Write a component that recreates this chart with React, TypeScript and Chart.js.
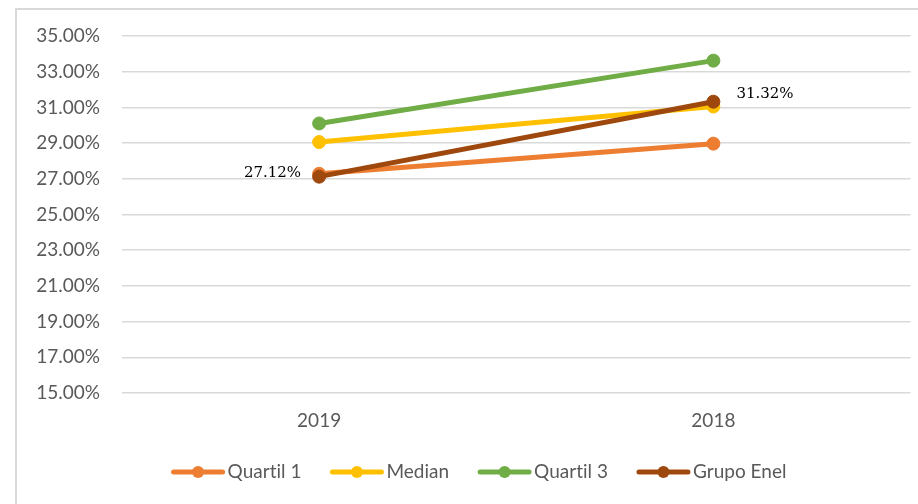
import React, { useEffect, useRef } from "react";
import { Chart, registerables } from "chart.js";

Chart.register(...registerables);

const categories = ["2019", "2018"];
const quartil1 = [27.28, 28.97];
const median = [29.06, 31.05];
const quartil3 = [30.1, 33.62];
const grupoEnel = [27.12, 31.32];
const seriesNames = ["Quartil 1", "Median", "Quartil 3", "Grupo Enel"];
const seriesColors = ["#ED7D31", "#FFC000", "#70AD47", "#9E480E"];
const enelLabels = ["27.12%", "31.32%"];

const AXIS_FONT = "Lato, 'Open Sans', sans-serif";

const decorPlugin = {
  id: "decor",
  beforeDraw(chart: any) {
    const ctx = chart.ctx;
    ctx.save();
    ctx.strokeStyle = "#d9d9d9";
    ctx.lineWidth = 2;
    ctx.beginPath();
    ctx.moveTo(16, chart.height);
    ctx.lineTo(16, 9);
    ctx.lineTo(chart.width, 9);
    ctx.stroke();
    ctx.restore();
  },
  afterDraw(chart: any) {
    const ctx = chart.ctx;
    ctx.save();
    // data labels for Grupo Enel
    const meta = chart.getDatasetMeta(3);
    ctx.font = "15px 'DejaVu Serif', serif";
    ctx.fillStyle = "#000000";
    ctx.textBaseline = "middle";
    meta.data.forEach((pt: any, i: number) => {
      if (i === 0) {
        ctx.textAlign = "right";
        ctx.fillText(enelLabels[i], pt.x - 18, pt.y - 3.5);
      } else {
        ctx.textAlign = "left";
        ctx.fillText(enelLabels[i], pt.x + 23, pt.y - 8);
      }
    });
    // legend
    ctx.font = "19px " + AXIS_FONT;
    try {
      (ctx as any).letterSpacing = "0.01px";
    } catch (e) {}
    const lineLen = 53;
    const gapText = 3;
    const gapItem = 29;
    const widths = seriesNames.map((n) => ctx.measureText(n).width);
    const total =
      widths.reduce((a, w) => a + lineLen + gapText + w, 0) +
      gapItem * (seriesNames.length - 1);
    let x = 479 - total / 2;
    const y = 472;
    seriesNames.forEach((name, i) => {
      ctx.strokeStyle = seriesColors[i];
      ctx.fillStyle = seriesColors[i];
      ctx.lineWidth = 5;
      ctx.lineCap = "round";
      ctx.beginPath();
      ctx.moveTo(x + 2, y);
      ctx.lineTo(x + lineLen - 2, y);
      ctx.stroke();
      ctx.beginPath();
      ctx.arc(x + lineLen / 2, y, 6, 0, Math.PI * 2);
      ctx.fill();
      ctx.fillStyle = "#595959";
      ctx.textAlign = "left";
      ctx.textBaseline = "middle";
      ctx.fillText(name, x + lineLen + gapText, y);
      x += lineLen + gapText + widths[i] + gapItem;
    });
    ctx.restore();
  },
};

export default function App() {
  const ref = useRef<HTMLCanvasElement>(null);
  useEffect(() => {
    if (!ref.current) return;
    const series = [quartil1, median, quartil3, grupoEnel];
    const chart = new Chart(ref.current, {
      type: "line",
      data: {
        labels: categories,
        datasets: series.map((d, i) => ({
          label: seriesNames[i],
          data: d,
          borderColor: seriesColors[i],
          backgroundColor: seriesColors[i],
          pointBackgroundColor: seriesColors[i],
          pointBorderColor: seriesColors[i],
          borderWidth: 5,
          pointRadius: 6.5,
          pointBorderWidth: 1,
          borderCapStyle: "round" as const,
          order: 3 - i,
        })),
      },
      options: {
        responsive: false,
        animation: false,
        events: [],
        layout: { padding: { left: 0, right: 2, top: 36, bottom: 51 } },
        plugins: {
          legend: { display: false },
          tooltip: { enabled: false },
        },
        scales: {
          x: {
            offset: true,
            grid: { display: false, drawTicks: false },
            border: { display: false },
            ticks: {
              color: "#595959",
              font: { family: AXIS_FONT, size: 19 },
              padding: 16,
            },
            afterFit(scale: any) {
              scale.height = 60;
            },
          },
          y: {
            min: 15,
            max: 35,
            grid: { color: "#d9d9d9", lineWidth: 1.5, drawTicks: false },
            border: { display: false },
            ticks: {
              stepSize: 2,
              color: "#595959",
              font: { family: AXIS_FONT, size: 19 },
              padding: 22,
              callback: (v: any) => Number(v).toFixed(2) + "%",
            },
            afterFit(scale: any) {
              scale.width = 122;
            },
          },
        },
      },
      plugins: [decorPlugin],
    });
    return () => chart.destroy();
  }, []);
  return (
    <div style={{ position: "absolute", left: 0, top: 0, width: 918, height: 504, background: "#fff" }}>
      <canvas ref={ref} width={918} height={504} style={{ display: "block" }} />
    </div>
  );
}
